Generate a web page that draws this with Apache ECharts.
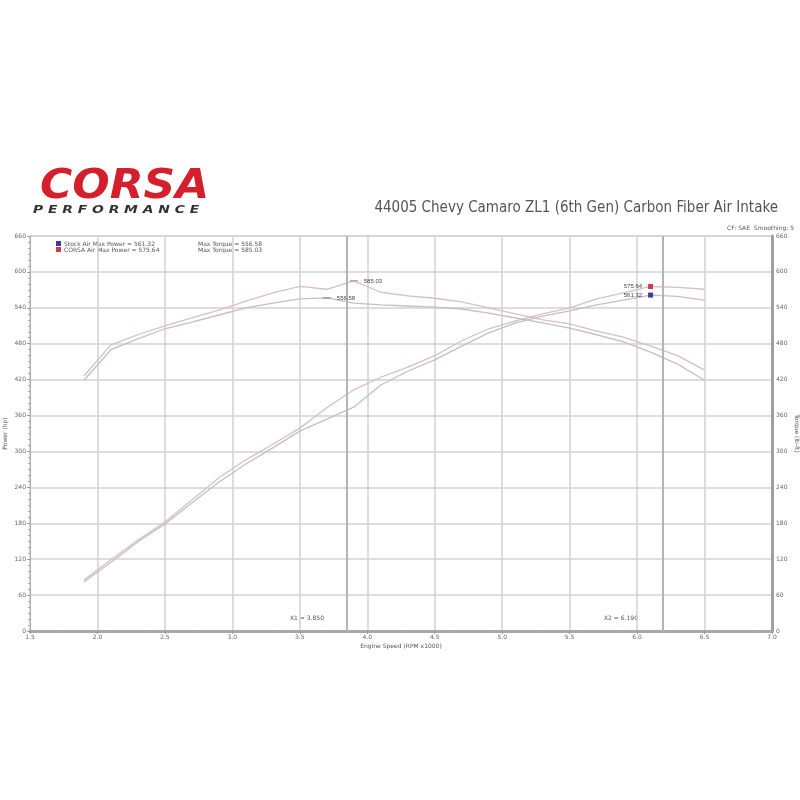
<!DOCTYPE html>
<html>
<head>
<meta charset="utf-8">
<script src="https://cdn.jsdelivr.net/npm/echarts@6/dist/echarts.min.js"></script>
<style>html,body{margin:0;padding:0;background:#fff}#c{width:800px;height:800px}</style>
</head>
<body>
<div id="c"></div>
<script>
// Engine speed (RPM x1000)
const rpm = [1.9,2.1,2.3,2.5,2.7,2.9,3.1,3.3,3.5,3.7,3.9,4.1,4.3,4.5,4.7,4.9,5.1,5.3,5.5,5.7,5.9,6.1,6.3,6.5];
// CORSA intake (red)
const powerCorsa  = [85,119,152,182,219,256,286,312,339,373,403,424,441,460,485,505,518,530,540,555,565,575.64,574.2,571];
const torqueCorsa = [426,478,495,510,523,536,551,565,576,571,585.03,566,560,556,550,540,530,520,513,501,491,476,460,436];
// Stock intake (blue)
const powerStock  = [82,115,149,179,214,249,279,306,334,354,374,411,434,453,476,498,515,526,535,545,553,561.32,559,553];
const torqueStock = [419,470,488,505,516,528,540,548,555,556.58,548,545,543,541,538,531,523,515,506,495,483,466,446,419];
// cursor markers (RPM x1000)
const cursors = [3.85, 6.19];
const axisMin = 0, axisMax = 660, axisStep = 60;
const xMin = 1.5, xMax = 7.0, xStep = 0.5;

const redLine = '#dcbcc5', blueLine = '#bfbfd0';
const redMark = '#d23a4a', blueMark = '#3b3f9a';

function pairs(y){ return rpm.map((r,i)=>[r,y[i]]); }
function peak(y){ let m=-Infinity,k=0; y.forEach((v,i)=>{ if(v>m){m=v;k=i;} }); return {x:rpm[k], v:m}; }
const pC = peak(powerCorsa), tC = peak(torqueCorsa), pS = peak(powerStock), tS = peak(torqueStock);

const chart = echarts.init(document.getElementById('c'));
const small = {fontSize:6, color:'#666', fontFamily:'DejaVu Sans'};

chart.setOption({
  backgroundColor:'#fff',
  animation:false,
  grid:{left:30, right:28, top:236, bottom:169, show:true, borderColor:'#bbb', borderWidth:1, outerBoundsMode:'none', containLabel:false},
  xAxis:{
    type:'value', min:xMin, max:xMax, interval:xStep,
    name:'Engine Speed (RPM x1000)', nameLocation:'middle', nameGap:12,
    nameTextStyle:{fontSize:6, color:'#555', fontFamily:'DejaVu Sans'},
    axisLine:{show:true, onZero:false, lineStyle:{color:'#a8a8a8', width:3}},
    axisTick:{show:true, length:3, lineStyle:{color:'#999'}},
    minorTick:{show:true, splitNumber:10, length:2, lineStyle:{color:'#aaa'}},
    axisLabel:{...small, margin:3, formatter:v=>v.toFixed(1)},
    splitLine:{show:true, lineStyle:{color:'#d2d2d2', width:1.5}}
  },
  yAxis:[{
    type:'value', min:axisMin, max:axisMax, interval:axisStep, position:'left',
    name:'Power (hp)', nameLocation:'middle', nameGap:22, nameRotate:90, nameMoveOverlap:false,
    nameTextStyle:{fontSize:6, color:'#555', fontFamily:'DejaVu Sans'},
    axisLine:{show:true, lineStyle:{color:'#b0b0b0', width:1}},
    axisTick:{show:true, length:3, lineStyle:{color:'#999'}},
    minorTick:{show:true, splitNumber:6, length:2, lineStyle:{color:'#aaa'}},
    axisLabel:{...small, margin:4, formatter:v=>v.toFixed(0)},
    splitLine:{show:true, lineStyle:{color:'#d2d2d2', width:1.5}}
  },{
    type:'value', min:axisMin, max:axisMax, interval:axisStep, position:'right',
    name:'Torque (lb-ft)', nameLocation:'middle', nameGap:22, nameRotate:-90, nameMoveOverlap:false,
    nameTextStyle:{fontSize:6, color:'#555', fontFamily:'DejaVu Sans'},
    axisLine:{show:true, lineStyle:{color:'#a0a0a0', width:3}},
    axisTick:{show:false},
    axisLabel:{...small, margin:4, formatter:v=>v.toFixed(0)},
    splitLine:{show:false}
  }],
  series:[
    {name:'CORSA Power', type:'line', yAxisIndex:0, data:pairs(powerCorsa), showSymbol:false,
     lineStyle:{color:redLine, width:1.3}, itemStyle:{color:redLine},
     markLine:{silent:true, symbol:'none', label:{show:false},
       lineStyle:{color:'#b4b4b4', width:2, type:'solid'},
       data:cursors.map(c=>({xAxis:c}))},
     markPoint:{symbol:'rect', symbolSize:[5,5], itemStyle:{color:redMark},
       label:{show:true, position:'left', distance:6, fontSize:6, color:'#444', formatter:p=>p.value.toFixed(2)},
       data:[{coord:[pC.x,pC.v], value:pC.v}]}},
    {name:'Stock Power', type:'line', yAxisIndex:0, data:pairs(powerStock), showSymbol:false,
     lineStyle:{color:blueLine, width:1.3}, itemStyle:{color:blueLine},
     markPoint:{symbol:'rect', symbolSize:[5,5], itemStyle:{color:blueMark},
       label:{show:true, position:'left', distance:6, fontSize:6, color:'#444', formatter:p=>p.value.toFixed(2)},
       data:[{coord:[pS.x,pS.v], value:pS.v}]}},
    {name:'CORSA Torque', type:'line', yAxisIndex:1, data:pairs(torqueCorsa), showSymbol:false,
     lineStyle:{color:redLine, width:1.3}, itemStyle:{color:redLine},
     markPoint:{symbol:'rect', symbolSize:[8,1.5], itemStyle:{color:'#c99'},
       label:{show:true, position:'right', distance:6, fontSize:6, color:'#444', formatter:p=>p.value.toFixed(2)},
       data:[{coord:[tC.x,tC.v], value:tC.v}]}},
    {name:'Stock Torque', type:'line', yAxisIndex:1, data:pairs(torqueStock), showSymbol:false,
     lineStyle:{color:blueLine, width:1.3}, itemStyle:{color:blueLine},
     markPoint:{symbol:'rect', symbolSize:[8,1.5], itemStyle:{color:'#99a'},
       label:{show:true, position:'right', distance:6, fontSize:6, color:'#444', formatter:p=>p.value.toFixed(2)},
       data:[{coord:[tS.x,tS.v], value:tS.v}]}}
  ],
  graphic:[
    {type:'text', left:40, top:168, scaleX:1.1, style:{text:'CORSA', fontSize:40, fontWeight:900, fontStyle:'italic', fontFamily:'DejaVu Sans', fill:'#d4202c'}},
    {type:'text', left:33, top:205, scaleX:1.4, style:{text:'P E R F O R M A N C E', fontSize:11, fontWeight:'bold', fontStyle:'italic', fontFamily:'DejaVu Sans Condensed', fill:'#333'}},
    {type:'text', right:22, top:201, style:{text:'44005 Chevy Camaro ZL1 (6th Gen) Carbon Fiber Air Intake', fontSize:15, fontFamily:'DejaVu Sans Condensed', fill:'#555'}},
    {type:'text', right:6, top:225, style:{text:'CF: SAE  Smoothing: 5', fontSize:6, fontFamily:'DejaVu Sans', fill:'#555'}},
    {type:'rect', left:56, top:241, shape:{width:5, height:5}, style:{fill:blueMark}},
    {type:'rect', left:56, top:247, shape:{width:5, height:5}, style:{fill:redMark}},
    {type:'text', left:64, top:241, style:{text:'Stock Air Max Power = '+pS.v.toFixed(2), fontSize:6, fontFamily:'DejaVu Sans', fill:'#555'}},
    {type:'text', left:64, top:247, style:{text:'CORSA Air Max Power = '+pC.v.toFixed(2), fontSize:6, fontFamily:'DejaVu Sans', fill:'#555'}},
    {type:'text', left:198, top:241, style:{text:'Max Torque = '+tS.v.toFixed(2), fontSize:6, fontFamily:'DejaVu Sans', fill:'#555'}},
    {type:'text', left:198, top:247, style:{text:'Max Torque = '+tC.v.toFixed(2), fontSize:6, fontFamily:'DejaVu Sans', fill:'#555'}},
    {type:'text', left:290, top:615, style:{text:'X1 = '+cursors[0].toFixed(3), fontSize:6, fontFamily:'DejaVu Sans', fill:'#555'}},
    {type:'text', left:604, top:615, style:{text:'X2 = '+cursors[1].toFixed(3), fontSize:6, fontFamily:'DejaVu Sans', fill:'#555'}}
  ]
});
</script>
</body>
</html>
